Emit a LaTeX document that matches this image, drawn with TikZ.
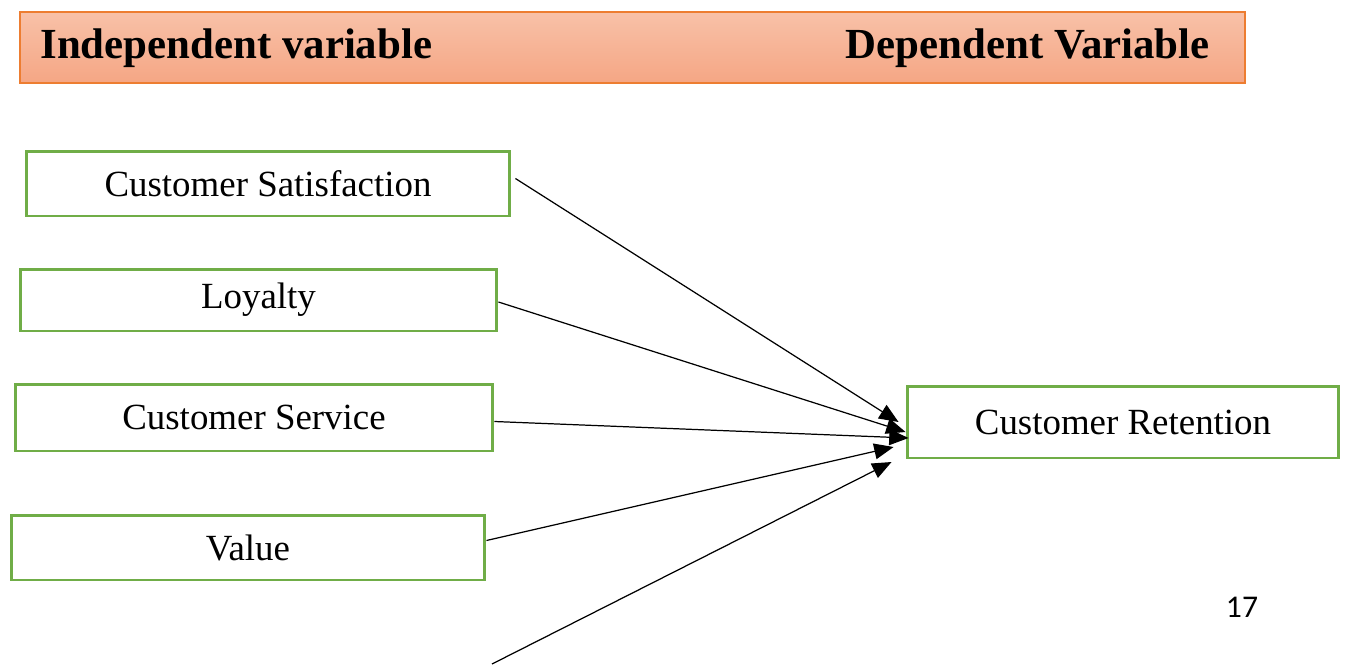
\documentclass[tikz,border=0pt]{standalone}
\usepackage{fontspec}
\setmainfont{Liberation Serif}
\newfontfamily\pagefont{Carlito}
\usetikzlibrary{arrows.meta}
\definecolor{boxgreen}{RGB}{112,173,71}
\definecolor{headedge}{RGB}{237,125,49}
\definecolor{headtop}{RGB}{248,193,168}
\definecolor{headbottom}{RGB}{245,166,132}
\begin{document}
\begin{tikzpicture}[
  x=0.02cm, y=-0.02cm,
  varbox/.style={draw=boxgreen, line width=1.7pt, rectangle, minimum height=1.3cm, font=\fontsize{21}{25}\selectfont, inner sep=0pt},
  headtext/.style={font=\fontsize{24.4}{28}\selectfont\bfseries, inner sep=0pt},
  link/.style={-{Triangle[length=11pt,width=9pt]}, line width=0.7pt}
]
\useasboundingbox (0,0) rectangle (1347,664);

% Header bar
\node[draw=headedge, line width=0.8pt, top color=headtop, bottom color=headbottom, minimum width=24.5cm, minimum height=1.42cm, inner sep=0pt] (head) at (632.5,47.5) {};
\node[headtext, anchor=west] (indep) at (40,48) {Independent variable};
\node[headtext, anchor=east] (dep) at (1210,48) {Dependent Variable};

% Independent variables
\node[varbox, minimum width=9.68cm] (sat) at (268,183.5) {Customer Satisfaction};
\node[varbox, minimum width=9.54cm, minimum height=1.24cm] (loy) at (258.5,300) {Loyalty};
\node[varbox, minimum width=9.56cm, minimum height=1.34cm] (serv) at (254,417.5) {Customer Service};
\node[varbox, minimum width=9.48cm] (val) at (248,547.5) {Value};

% Dependent variable
\node[varbox, minimum width=8.64cm, minimum height=1.44cm] (ret) at (1123,422) {Customer Retention};

% Free end of the cut-off arrow
\coordinate (cut) at (492,664);

% Links
\draw[link] ([shift={(4,-5)}]sat.east) -- ([shift={(-7,0)}]ret.west);
\draw[link] ([shift={(0,2)}]loy.east) -- ([shift={(0,10)}]ret.west);
\draw[link] ([shift={(0,4)}]serv.east) -- ([shift={(3,16)}]ret.west);
\draw[link] ([shift={(0,-7)}]val.east) -- ([shift={(-12,25)}]ret.west);
\draw[link] (cut) -- ([shift={(-14,40)}]ret.west);

% Page number
\node[font=\pagefont\fontsize{18}{20}\selectfont, inner sep=0pt] (page) at (1242,607) {17};
\end{tikzpicture}
\end{document}
